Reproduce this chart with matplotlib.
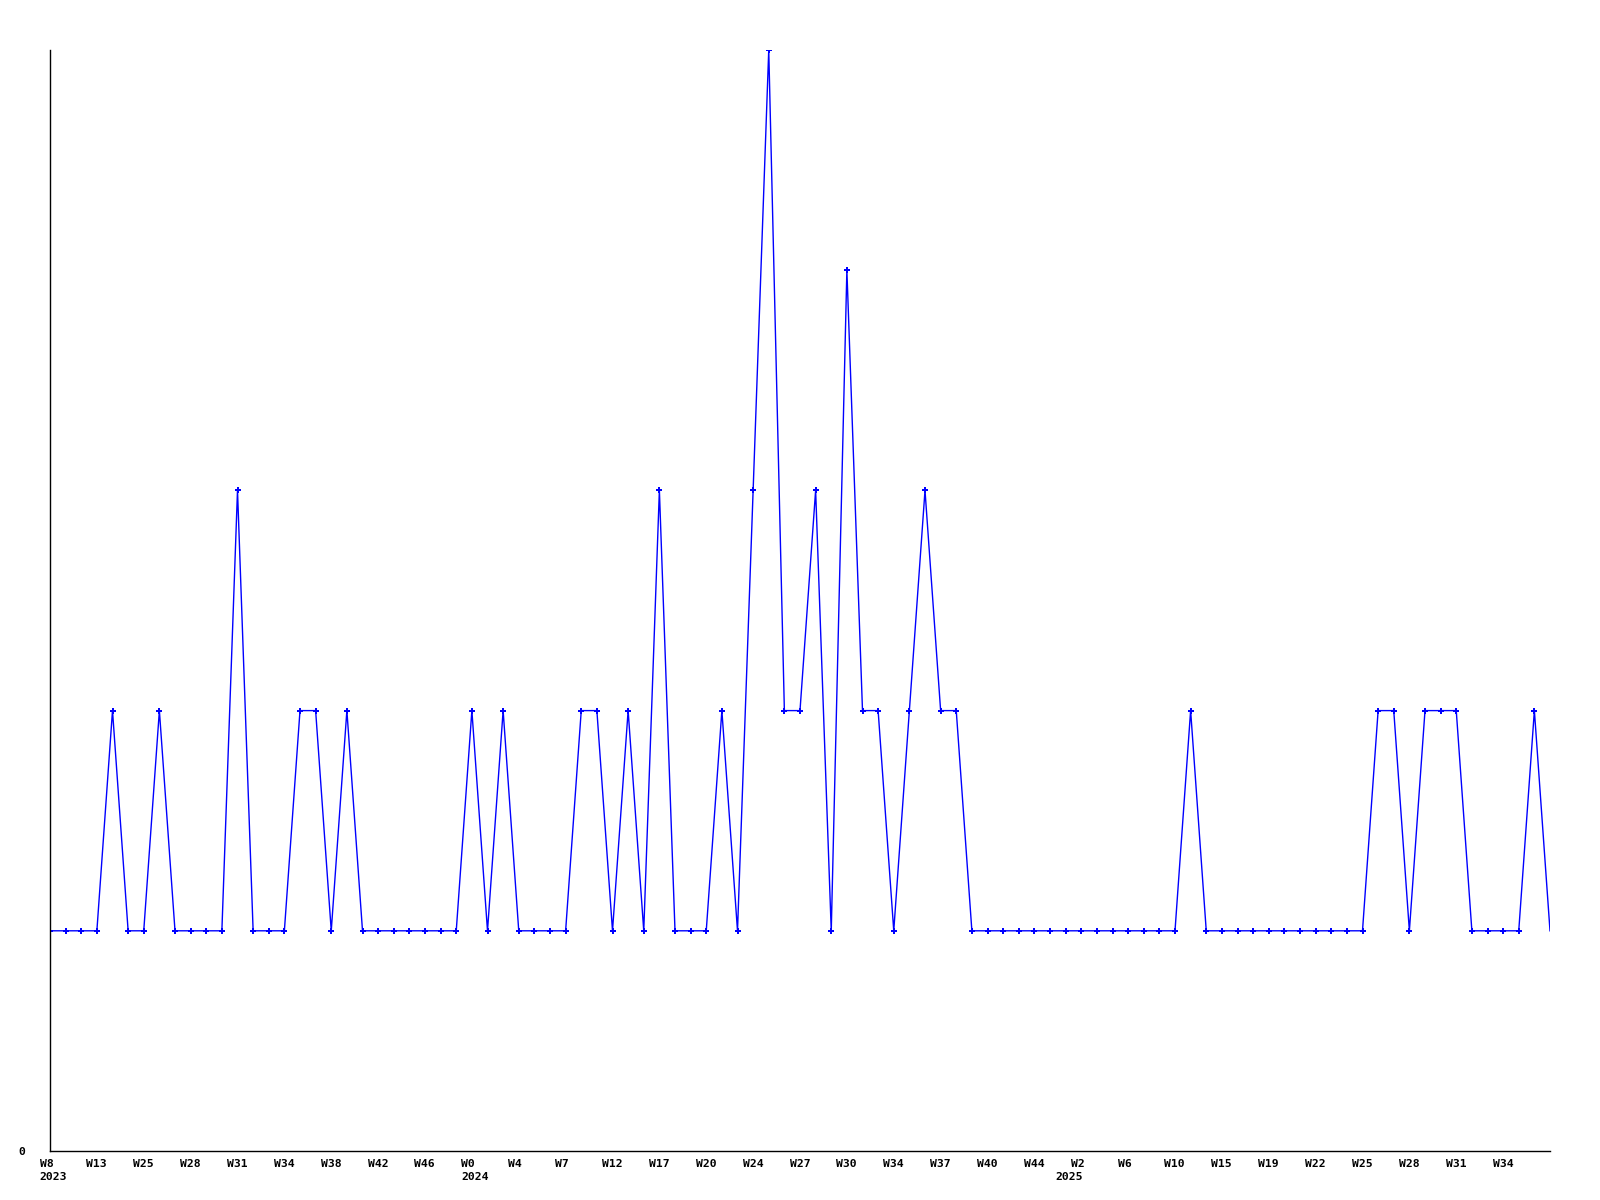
import matplotlib
matplotlib.use("Agg")
import matplotlib.pyplot as plt
from matplotlib.transforms import ScaledTranslation

values = [1, 1, 1, 1, 2, 1, 1, 2, 1, 1, 1, 1, 3, 1, 1, 1, 2, 2, 1, 2,
          1, 1, 1, 1, 1, 1, 1, 2, 1, 2, 1, 1, 1, 1, 2, 2, 1, 2, 1, 3,
          1, 1, 1, 2, 1, 3, 5, 2, 2, 3, 1, 4, 2, 2, 1, 2, 3, 2, 2, 1,
          1, 1, 1, 1, 1, 1, 1, 1, 1, 1, 1, 1, 1, 2, 1, 1, 1, 1, 1, 1,
          1, 1, 1, 1, 1, 2, 2, 1, 2, 2, 2, 1, 1, 1, 1, 2, 1]

week_labels = ["W8", "W13", "W25", "W28", "W31", "W34", "W38", "W42", "W46",
               "W0", "W4", "W7", "W12", "W17", "W20", "W24", "W27", "W30",
               "W34", "W37", "W40", "W44", "W2", "W6", "W10", "W15", "W19",
               "W22", "W25", "W28", "W31", "W34"]
year_labels = ["2023", "2024", "2025"]
year_index = [0, 27, 65]
label_step = 3

fig = plt.figure(figsize=(16, 12), dpi=100)
ax = fig.add_axes([50 / 1600, 49 / 1200, 1500 / 1600, 1101 / 1200])

x = list(range(len(values)))
ax.plot(x, values, color="#0000ff", lw=1.0, marker="P", markersize=5,
        markeredgewidth=0, markevery=list(range(len(values) - 1)))

ax.set_xlim(0, len(values) - 1)
ax.set_ylim(0, 5)

for s in ["top", "right"]:
    ax.spines[s].set_visible(False)
for s in ["left", "bottom"]:
    ax.spines[s].set_color("black")
    ax.spines[s].set_linewidth(1.0)

font = dict(family="DejaVu Sans Mono", fontweight="bold", fontsize=8.2)

ticks = [i * label_step for i in range(len(week_labels))]
ax.set_xticks(ticks)
ax.set_xticklabels(week_labels, **font)
ax.tick_params(axis="x", length=0, pad=6)
off = ScaledTranslation(-10.5 / 100, 0, fig.dpi_scale_trans)
for lab in ax.get_xticklabels():
    lab.set_horizontalalignment("left")
    lab.set_verticalalignment("top")
    lab.set_transform(lab.get_transform() + off)

for yl, yi in zip(year_labels, year_index):
    ax.annotate(yl, xy=(yi, 0), xycoords=("data", "axes fraction"),
                xytext=(-10.5, -20.5), textcoords="offset pixels",
                ha="left", va="top", annotation_clip=False, **font)

ax.set_yticks([0])
ax.set_yticklabels(["0"], **font)
ax.tick_params(axis="y", length=0, pad=18)

fig.savefig("out.png", dpi=100, facecolor="white")
